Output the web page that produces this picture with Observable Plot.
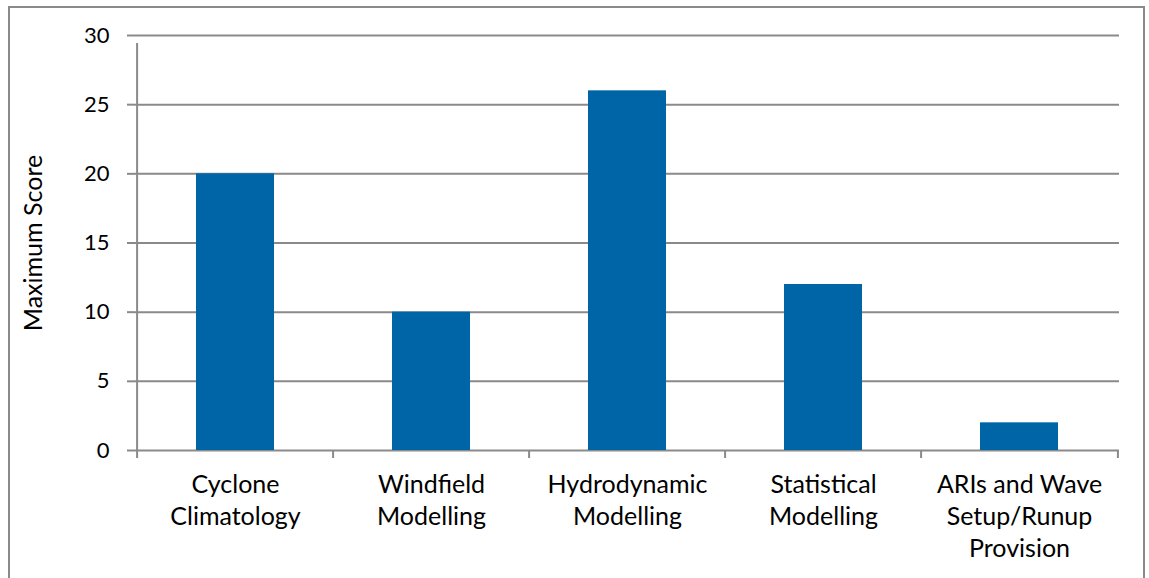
<!DOCTYPE html>
<html>
<head>
<meta charset="utf-8">
<script src="https://cdn.jsdelivr.net/npm/d3@7"></script>
<script src="https://cdn.jsdelivr.net/npm/@observablehq/plot@0.6"></script>
<style>
  html, body { margin: 0; padding: 0; background: #fff; overflow: hidden; }
  #wrap { position: relative; width: 1149px; height: 578px; }
  #border { position: absolute; left: 8px; top: 6px; width: 1137px; height: 600px; border: 2px solid #8a8a8a; box-sizing: border-box; }
  #chart { position: absolute; left: 0; top: 0; }
</style>
</head>
<body>
<div id="wrap"><div id="border"></div><div id="chart"></div></div>
<script>
const categories = ["Cyclone Climatology", "Windfield Modelling", "Hydrodynamic Modelling", "Statistical Modelling", "ARIs and Wave Setup/Runup Provision"];
const tickLabels = ["Cyclone\nClimatology", "Windfield\nModelling", "Hydrodynamic\nModelling", "Statistical\nModelling", "ARIs and Wave\nSetup/Runup\nProvision"];
const scores = [20, 10, 26, 12, 2];
const yTicks = [0, 5, 10, 15, 20, 25, 30];
const yLabel = "Maximum Score";

const data = categories.map((c, i) => ({category: c, score: scores[i]}));
const W = 1149, H = 578, mL = 135, mR = 30, mT = 35, mB = 128;
const bw = (W - mL - mR) / categories.length;
const grey = "#8a8a8a";

const chart = Plot.plot({
  width: W, height: H,
  marginLeft: mL, marginRight: mR, marginTop: mT, marginBottom: mB,
  style: {fontFamily: "Lato, sans-serif", fontSize: "22px", color: "#000", background: "transparent"},
  x: {domain: categories, padding: 0},
  y: {domain: [0, 30]},
  marks: [
    Plot.gridY(yTicks, {stroke: grey, strokeOpacity: 1, strokeWidth: 2}),
    Plot.axisY(yTicks, {tickSize: 8, tickPadding: 18, stroke: grey, strokeWidth: 2, fontSize: 22, label: null}),
    Plot.axisX({tickSize: 0, tickPadding: 20, tickFormat: (d) => tickLabels[categories.indexOf(d)], lineHeight: 1.28, fontSize: 25, label: null}),
    Plot.text([yLabel], {frameAnchor: "left", textAnchor: "middle", rotate: -90, dx: -102, fontSize: 25, fill: "#000"}),
    Plot.barY(data, {x: "category", y: "score", fill: "#0065A6", insetLeft: 59, insetRight: 59}),
    Plot.ruleX(categories.slice(0, 1), {x: (d) => d, dx: -bw / 2, y1: 0, y2: 30, insetBottom: -8, stroke: grey, strokeWidth: 2}),
    Plot.ruleX(categories, {x: (d) => d, dx: -bw / 2, y1: 0, y2: 0, insetBottom: -8, stroke: grey, strokeWidth: 2}),
    Plot.ruleX(categories.slice(-1), {x: (d) => d, dx: bw / 2, y1: 0, y2: 0, insetBottom: -8, stroke: grey, strokeWidth: 2})
  ]
});
document.getElementById("chart").appendChild(chart);
</script>
</body>
</html>
